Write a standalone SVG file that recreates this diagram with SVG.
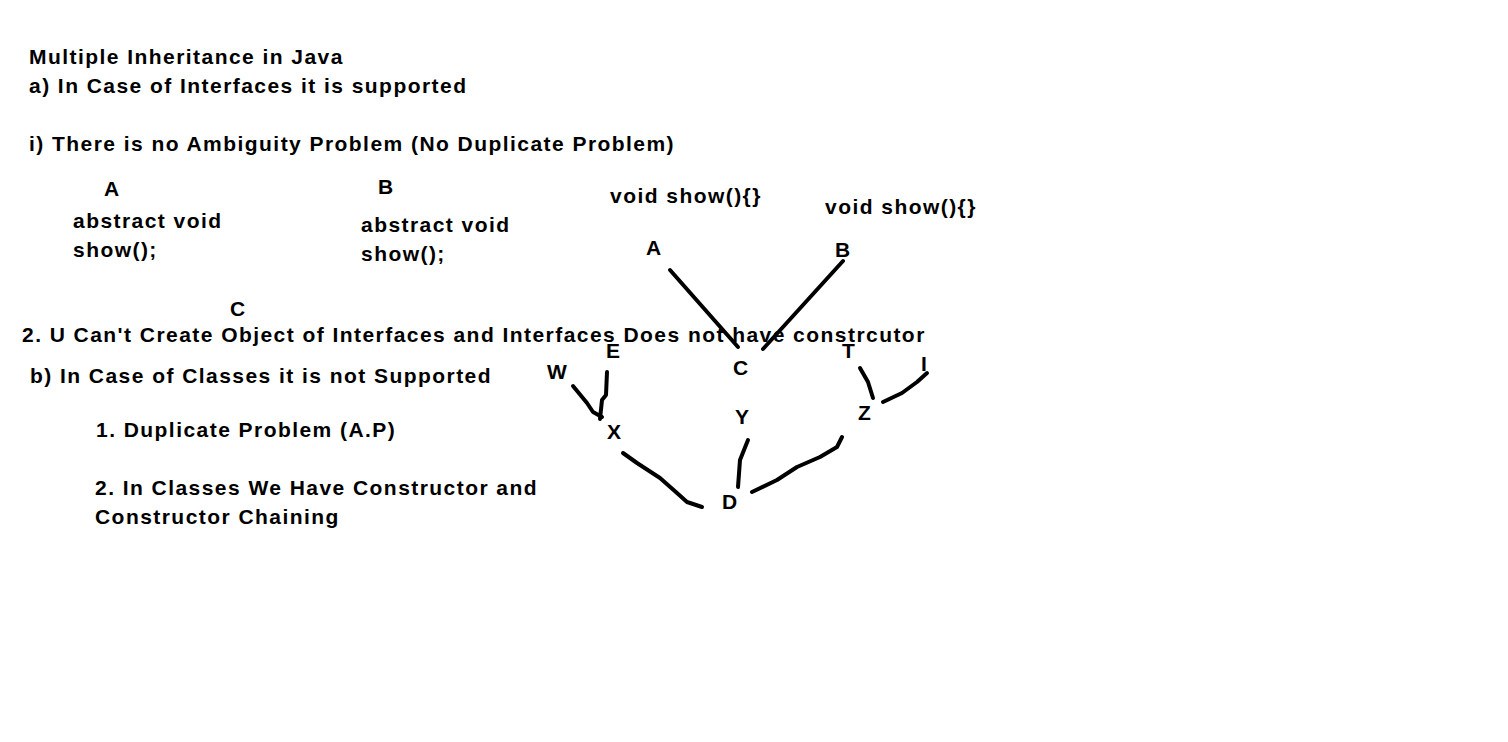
<svg xmlns="http://www.w3.org/2000/svg" width="1508" height="742" viewBox="0 0 1508 742">
<style>
text{font-family:"Liberation Sans",Arial,sans-serif;font-weight:bold;font-size:21px;fill:#000;letter-spacing:1.45px}
.e{fill:none;stroke:#000;stroke-width:4;stroke-linecap:round;stroke-linejoin:round}
</style>
<rect width="1508" height="742" fill="#fff"/>
<g id="notes">
<text x="29" y="64">Multiple Inheritance in Java</text>
<text x="29" y="93">a) In Case of Interfaces it is supported</text>
<text x="29" y="151">i) There is no Ambiguity Problem (No Duplicate Problem)</text>
<text x="22" y="342">2. U Can't Create Object of Interfaces and Interfaces Does not have constrcutor</text>
<text x="30" y="383">b) In Case of Classes it is not Supported</text>
<text x="96" y="437">1. Duplicate Problem (A.P)</text>
<text x="95" y="495">2. In Classes We Have Constructor and</text>
<text x="95" y="524">Constructor Chaining</text>
</g>
<g id="ifaceA"><text x="104" y="196">A</text><text x="73" y="228">abstract void</text><text x="73" y="257">show();</text></g>
<g id="ifaceB"><text x="378" y="194">B</text><text x="361" y="232">abstract void</text><text x="361" y="261">show();</text></g>
<g id="ifaceC"><text x="230" y="316">C</text></g>
<g id="showA"><text x="610" y="203">void show(){}</text></g>
<g id="showB"><text x="825" y="214">void show(){}</text></g>
<g id="nA"><text x="646" y="255">A</text></g>
<g id="nB"><text x="835" y="257">B</text></g>
<g id="nC"><text x="733" y="375">C</text></g>
<g id="nE"><text x="606" y="358">E</text></g>
<g id="nW"><text x="547" y="379">W</text></g>
<g id="nT"><text x="842" y="358">T</text></g>
<g id="nI"><text x="921" y="371">I</text></g>
<g id="nX"><text x="607" y="439">X</text></g>
<g id="nY"><text x="735" y="424">Y</text></g>
<g id="nZ"><text x="858" y="420">Z</text></g>
<g id="nD"><text x="722" y="509">D</text></g>
<g id="connectors">
<path class="e" d="M670,270 L738,347"/>
<path class="e" d="M843,261 L763,349"/>
<path class="e" d="M573,386 L587,403 L593,412 L602,417"/>
<path class="e" d="M607,372 L606,395 L602,400 L600,419"/>
<path class="e" d="M623,453 L637,463 L660,478 L677,493 L687,502 L702,507"/>
<path class="e" d="M748,440 L740,460 L738,487"/>
<path class="e" d="M842,437 L837,447 L820,457 L797,467 L777,480 L752,492"/>
<path class="e" d="M860,368 L868,382 L873,398"/>
<path class="e" d="M927,373 L917,382 L902,393 L883,402"/>
</g>
</svg>
